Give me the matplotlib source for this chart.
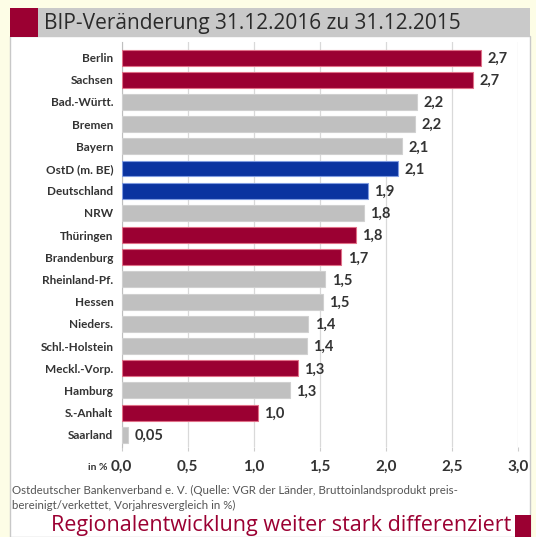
import matplotlib.pyplot as plt
from matplotlib.patches import Rectangle

# BIP-Veränderung der Länder 2016 ggü. 2015 (in %)
laender = ['Berlin', 'Sachsen', 'Bad.-Württ.', 'Bremen', 'Bayern', 'OstD (m. BE)',
           'Deutschland', 'NRW', 'Thüringen', 'Brandenburg', 'Rheinland-Pf.', 'Hessen',
           'Nieders.', 'Schl.-Holstein', 'Meckl.-Vorp.', 'Hamburg', 'S.-Anhalt', 'Saarland']
werte = [2.72, 2.66, 2.23, 2.22, 2.12, 2.09, 1.86, 1.83, 1.77, 1.66, 1.54, 1.52,
         1.41, 1.40, 1.33, 1.27, 1.03, 0.05]
gruppe = ['ost', 'ost', 'west', 'west', 'west', 'summe', 'summe', 'west', 'ost', 'ost',
          'west', 'west', 'west', 'west', 'ost', 'west', 'ost', 'west']
xticks = [0.0, 0.5, 1.0, 1.5, 2.0, 2.5, 3.0]

ROT = '#9b0032'
GRAU = '#c0c0c0'
BLAU = '#0a33a0'
farben = {'ost': ROT, 'west': GRAU, 'summe': BLAU}
kanten = {'ost': '#e07088', 'west': '#d0d0d0', 'summe': '#7f9be0'}

plt.rcParams['font.family'] = ['Lato', 'DejaVu Sans']

fig = plt.figure(figsize=(5.36, 5.37), dpi=100)
fig.patch.set_facecolor('#fdfde6')

# weisses Panel + Kopfzeile (hinter den Achsen)
fig.add_artist(Rectangle((10 / 536, 0), 520 / 536, 1 - 36 / 537, transform=fig.transFigure,
                         facecolor='white', edgecolor='#c8c8c8', lw=1.0, zorder=-10))
fig.add_artist(Rectangle((10 / 536, 1 - 37 / 537), 28 / 536, 29 / 537, transform=fig.transFigure,
                         facecolor=ROT, edgecolor='none', zorder=-9))
fig.add_artist(Rectangle((38 / 536, 1 - 37 / 537), 492 / 536, 29 / 537, transform=fig.transFigure,
                         facecolor='#c9c9c9', edgecolor='none', zorder=-9))
fig.text(44 / 536, 1 - 23 / 537, 'BIP-Veränderung 31.12.2016 zu 31.12.2015',
         fontsize=15, color='#2a2a2a', va='center', ha='left', family=['Open Sans', 'DejaVu Sans'])

ax = fig.add_axes([121.7 / 536, 1 - 447 / 537, 396.6 / 536, 405 / 537])
ax.set_facecolor('white')

y = list(range(len(laender)))
ax.barh(y, werte, height=0.72, color=[farben[g] for g in gruppe],
        edgecolor=[kanten[g] for g in gruppe], linewidth=0.8, zorder=3)

for yi, v in zip(y, werte):
    txt = '0,05' if v < 0.1 else f'{v:.1f}'.replace('.', ',')
    ax.text(v + 0.05, yi + 0.05, txt, va='center', ha='left', fontsize=10.5,
            fontweight='bold', color='#333333', zorder=4)

ax.set_xlim(0, 3.0)
ax.set_ylim(17.55, -0.7)
ax.set_yticks(y)
ax.set_yticklabels(laender, fontsize=8.5, fontweight='bold', color='#333333')
ax.set_xticks(xticks)
ax.set_xticklabels([f'{t:.1f}'.replace('.', ',') for t in xticks], fontsize=11,
                   fontweight='bold', color='#333333')
ax.tick_params(axis='y', length=0, pad=6)
ax.tick_params(axis='x', length=3, color='#cccccc', pad=6)
ax.grid(axis='x', color='#d9d9d9', lw=0.9, zorder=0)
for s in ['top', 'right', 'bottom']:
    ax.spines[s].set_visible(False)
ax.spines['left'].set_color('#bfbfbf')

fig.text(108 / 536, 1 - 467 / 537, 'in %', fontsize=7.5, fontweight='bold',
         color='#333333', ha='right', va='center')

# Quelle
fig.text(12 / 536, 1 - 490 / 537,
         'Ostdeutscher Bankenverband e. V. (Quelle: VGR der Länder, Bruttoinlandsprodukt preis-',
         fontsize=8.3, color='#555555', ha='left', va='center')
fig.text(12 / 536, 1 - 505 / 537, 'bereinigt/verkettet, Vorjahresvergleich in %)',
         fontsize=8.3, color='#555555', ha='left', va='center')

# Fusszeile
fig.text(511 / 536, 1 - 525 / 537, 'Regionalentwicklung weiter stark differenziert',
         fontsize=15.5, color=ROT, ha='right', va='center', family=['Open Sans', 'DejaVu Sans'])
fig.add_artist(Rectangle((515 / 536, 0), 16 / 536, 22 / 537, transform=fig.transFigure,
                         facecolor=ROT, edgecolor='none'))

fig.savefig('out.png', dpi=100, facecolor=fig.get_facecolor())
